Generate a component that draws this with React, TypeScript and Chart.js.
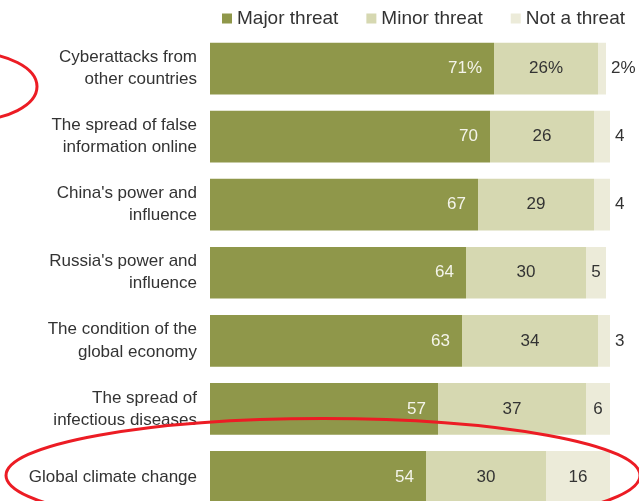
import React, { useEffect, useRef } from "react";
import { Chart, registerables } from "chart.js";

Chart.register(...registerables);

const categories: (string | string[])[] = [
  ["Cyberattacks from", "other countries"],
  ["The spread of false", "information online"],
  ["China's power and", "influence"],
  ["Russia's power and", "influence"],
  ["The condition of the", "global economy"],
  ["The spread of", "infectious diseases"],
  "Global climate change",
];
const seriesNames = ["Major threat", "Minor threat", "Not a threat"];
const majorThreat = [71, 70, 67, 64, 63, 57, 54];
const minorThreat = [26, 26, 29, 30, 34, 37, 30];
const notAThreat = [2, 4, 4, 5, 3, 6, 16];
const colors = ["#8f974a", "#d6d8b1", "#ecebd9"];
const labelColors = ["#f4f4ea", "#333333", "#333333"];

const FONT = "'Liberation Sans', Arial, sans-serif";

const legendPlugin = {
  id: "customLegend",
  afterDraw(chart: any) {
    const { ctx, chartArea } = chart;
    ctx.save();
    ctx.font = `19px ${FONT}`;
    ctx.textBaseline = "middle";
    ctx.textAlign = "left";
    let x = chartArea.left + 12;
    const y = 18.5;
    chart.data.datasets.forEach((ds: any) => {
      ctx.fillStyle = ds.backgroundColor;
      ctx.fillRect(x, y - 5, 10, 10);
      ctx.fillStyle = "#333333";
      ctx.fillText(ds.label, x + 15, y);
      x += 15 + ctx.measureText(ds.label).width + 28;
    });
    ctx.restore();
  },
};

const valueLabelPlugin = {
  id: "valueLabels",
  afterDatasetsDraw(chart: any) {
    const { ctx } = chart;
    ctx.save();
    ctx.font = `17px ${FONT}`;
    ctx.textBaseline = "middle";
    chart.data.datasets.forEach((ds: any, di: number) => {
      const meta = chart.getDatasetMeta(di);
      meta.data.forEach((bar: any, i: number) => {
        const v = ds.data[i];
        const text = i === 0 ? `${v}%` : `${v}`;
        const end = bar.x;
        const start = bar.base;
        ctx.fillStyle = labelColors[di];
        if (di === 0) {
          ctx.textAlign = "right";
          ctx.fillText(text, end - 12, bar.y);
        } else if (di === 1 || v >= 5) {
          ctx.textAlign = "center";
          ctx.fillText(text, (start + end) / 2, bar.y);
        } else {
          ctx.textAlign = "left";
          ctx.fillText(text, end + 5, bar.y);
        }
      });
    });
    ctx.restore();
  },
};

const annotationPlugin = {
  id: "redCircles",
  afterDraw(chart: any) {
    const { ctx } = chart;
    const yScale = chart.scales.y;
    ctx.save();
    ctx.strokeStyle = "#ec1c24";
    ctx.lineWidth = 3;
    // ellipse around the last row
    const cy = yScale.getPixelForValue(categories.length - 1) - 1.5;
    ctx.beginPath();
    ctx.ellipse(chart.width / 2 + 3.5, cy, 317, 57, 0, 0, Math.PI * 2);
    ctx.stroke();
    // partial ellipse at top-left
    const cy0 = yScale.getPixelForValue(0) + 18;
    ctx.beginPath();
    ctx.ellipse(-30, cy0, 67, 34, 0, 0, Math.PI * 2);
    ctx.stroke();
    ctx.restore();
  },
};

export default function App() {
  const canvasRef = useRef<HTMLCanvasElement | null>(null);

  useEffect(() => {
    if (!canvasRef.current) return;
    const chart = new Chart(canvasRef.current, {
      type: "bar",
      data: {
        labels: categories,
        datasets: [majorThreat, minorThreat, notAThreat].map((d, i) => ({
          label: seriesNames[i],
          data: d,
          backgroundColor: colors[i],
          borderWidth: 0,
          barPercentage: 0.76,
          categoryPercentage: 1,
        })),
      },
      options: {
        indexAxis: "y",
        animation: false,
        responsive: false,
        maintainAspectRatio: false,
        devicePixelRatio: 1,
        layout: { padding: { top: 34.5, right: 29, bottom: 0, left: 0 } },
        plugins: {
          legend: { display: false },
          tooltip: { enabled: false },
        },
        scales: {
          x: {
            stacked: true,
            min: 0,
            max: 100,
            display: false,
          },
          y: {
            stacked: true,
            grid: { display: false, drawTicks: false },
            border: { display: false },
            ticks: {
              padding: 13,
              color: "#333333",
              font: { family: FONT, size: 17, lineHeight: 1.3 },
            },
            afterFit(scale: any) {
              scale.width = 210;
              scale.paddingTop = 0;
              scale.paddingBottom = 0;
            },
          },
        },
      },
      plugins: [valueLabelPlugin, legendPlugin, annotationPlugin],
    });
    return () => chart.destroy();
  }, []);

  return (
    <div
      style={{
        position: "fixed",
        left: 0,
        top: 0,
        width: 639,
        height: 501,
        overflow: "hidden",
        background: "#ffffff",
      }}
    >
      <canvas
        ref={canvasRef}
        width={639}
        height={511}
        style={{ display: "block", width: 639, height: 511 }}
      />
    </div>
  );
}
